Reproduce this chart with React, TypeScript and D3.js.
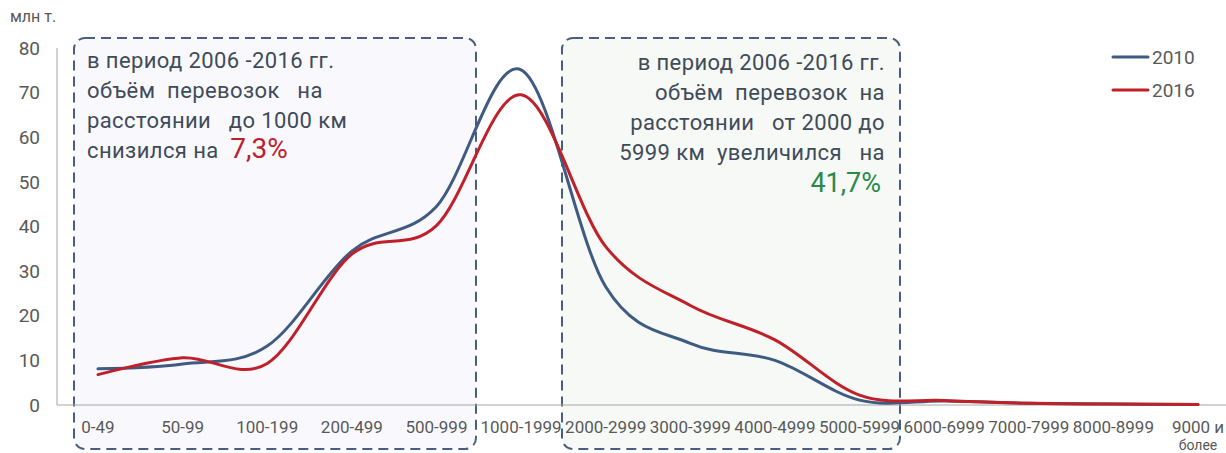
import React from 'react';
import * as d3 from 'd3';

const categories = ['0-49', '50-99', '100-199', '200-499', '500-999', '1000-1999', '2000-2999', '3000-3999', '4000-4999', '5000-5999', '6000-6999', '7000-7999', '8000-8999', '9000 и более'];
const series2010 = [8.1, 9.2, 13.2, 34.5, 44.5, 75.1, 26.5, 13.8, 10.0, 1.1, 0.9, 0.4, 0.2, 0.1];
const series2016 = [6.8, 10.6, 9.3, 33.8, 40.2, 69.5, 35.5, 22.3, 14.6, 2.2, 1.0, 0.4, 0.2, 0.1];
const yTicks = [0, 10, 20, 30, 40, 50, 60, 70, 80];
const seriesNames = ['2010', '2016'];
const seriesColors = ['#3F5B82', '#C0202A'];
const unitLabel = 'млн т.';
const leftNoteLines = ['в период 2006 -2016 гг.', 'объём  перевозок   на', 'расстоянии   до 1000 км', 'снизился на  '];
const leftNoteValue = '7,3%';
const rightNoteLines = ['в период 2006 -2016 гг.', 'объём  перевозок  на', 'расстоянии   от 2000 до', '5999 км  увеличился   на'];
const rightNoteValue = '41,7%';

const W = 1226;
const H = 453;
const FONT = 'Roboto, "DejaVu Sans", sans-serif';
const textColor = '#404B5A';
const axisTextColor = '#595959';
const boxStroke = '#4A5F7E';

export default function App() {
  const x = d3.scalePoint<string>().domain(categories).range([98, 1198]);
  const y = d3.scaleLinear().domain([0, 80]).range([405, 48]);
  const line = d3
    .line<number>()
    .x((_, i) => x(categories[i]) as number)
    .y((d) => y(d))
    .curve(d3.curveCardinal.tension(0));

  const allSeries = [series2010, series2016];

  return (
    <svg
      width={W}
      height={H}
      style={{ position: 'absolute', left: 0, top: 0, background: '#fff' }}
      fontFamily={FONT}
    >
      {/* annotation boxes */}
      <rect x={74} y={38} width={402} height={411} rx={11} ry={11} fill="#F9F9FD" stroke={boxStroke} strokeWidth={2} strokeDasharray="10 6" />
      <rect x={562} y={38} width={338} height={411} rx={11} ry={11} fill="#F6F9F5" stroke={boxStroke} strokeWidth={2} strokeDasharray="10 6" />

      {/* axes */}
      <line x1={57} x2={57} y1={y(80)} y2={y(0)} stroke="#A6A6A6" strokeWidth={1} />
      <line x1={57} x2={W} y1={y(0)} y2={y(0)} stroke="#A6A6A6" strokeWidth={1} />
      {yTicks.map((t) => (
        <text key={t} x={40} y={y(t)} dy="0.35em" textAnchor="end" fontSize={19} fill={axisTextColor}>
          {t}
        </text>
      ))}
      <text x={10} y={22} fontSize={16} fill={axisTextColor}>{unitLabel}</text>
      {categories.map((c) => {
        const parts = c.includes(' более') ? [c.replace(' более', ''), 'более'] : [c];
        return (
          <text key={c} x={x(c)} y={433} textAnchor="middle" fontSize={17} fill={axisTextColor}>
            {parts.map((p, i) => (
              <tspan key={i} x={x(c)} dy={i === 0 ? 0 : 17} fontSize={i === 0 ? 17 : 14}>
                {p}
              </tspan>
            ))}
          </text>
        );
      })}

      {/* lines */}
      {allSeries.map((s, i) => (
        <path key={i} d={line(s) || ''} fill="none" stroke={seriesColors[i]} strokeWidth={3} strokeLinecap="round" />
      ))}

      {/* legend */}
      {seriesNames.map((n, i) => (
        <g key={n}>
          <line x1={1113} x2={1148} y1={57 + i * 33} y2={57 + i * 33} stroke={seriesColors[i]} strokeWidth={3} strokeLinecap="round" />
          <text x={1152} y={64 + i * 33} fontSize={19} fill={axisTextColor}>{n}</text>
        </g>
      ))}

      {/* left note */}
      {leftNoteLines.map((l, i) => (
        <text key={i} x={87} y={68 + i * 30} fontSize={22} letterSpacing={0.4} fill={textColor} style={{ whiteSpace: 'pre' }}>
          {l}
          {i === leftNoteLines.length - 1 && (
            <tspan fill="#C0202A" fontSize={28} letterSpacing={0}>{leftNoteValue}</tspan>
          )}
        </text>
      ))}

      {/* right note */}
      {rightNoteLines.map((l, i) => (
        <text key={i} x={885} y={70 + i * 30} fontSize={22} letterSpacing={0.4} fill={textColor} textAnchor="end" style={{ whiteSpace: 'pre' }}>
          {l}
        </text>
      ))}
      <text x={881} y={192} fontSize={27} fill="#2A8A4A" textAnchor="end">{rightNoteValue}</text>
    </svg>
  );
}
